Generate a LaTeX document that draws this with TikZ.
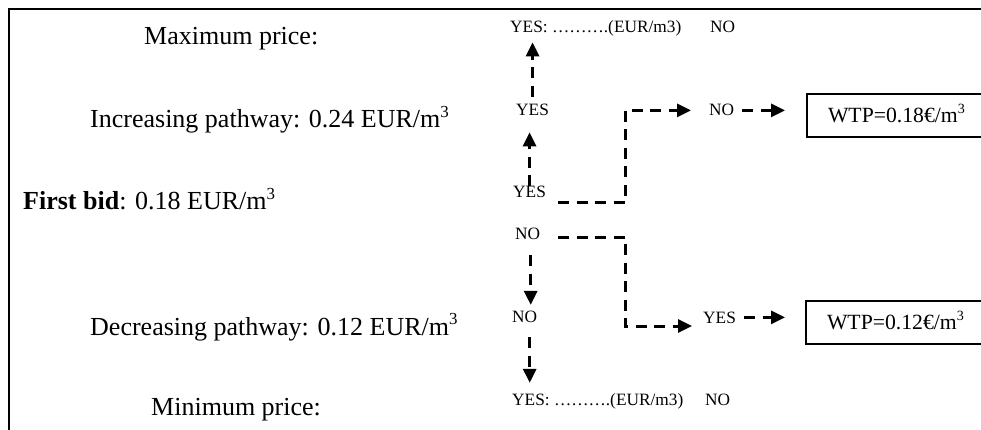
\documentclass[tikz,border=0pt]{standalone}
\usepackage{fontspec}
\setmainfont{Liberation Serif}
\usetikzlibrary{arrows.meta, calc}

\newcommand{\cubic}{m\raisebox{0.4em}{\scalebox{0.65}{3}}}

\begin{document}
\begin{tikzpicture}[
    x=1pt, y=1pt,
    >={Triangle[length=14pt, width=13pt]},
    price/.style={font=\fontsize{26}{30}\selectfont, inner sep=0pt, anchor=base west},
    answer/.style={font=\fontsize{17.3}{20}\selectfont, inner sep=0pt, anchor=base west},
    wtp box/.style={draw, line width=2pt, font=\fontsize{21.7}{25}\selectfont, anchor=west,
                    minimum height=43pt, text width=160pt, align=left, inner xsep=21pt,
                    text height=14.3pt, text depth=0pt},
    dline/.style={line width=3pt, dash pattern=on 11pt off 7.5pt},
    frame/.style={line width=2pt},
]

% Frame
\useasboundingbox (0,0) rectangle (981,-430);
\clip (0,0) rectangle (981,-430);
\draw[frame] (9,-432) -- (9,-9) -- (984,-9);

% Prices
\node[price] (maxp) at (144,-45) {Maximum price:};
\node[price] (incp) at (90,-128) {Increasing pathway: 0.24 EUR/\cubic};
\node[price] (bid) at (23,-210) {\textbf{First bid}: 0.18 EUR/\cubic};
\node[price] (decp) at (90,-335) {Decreasing pathway: 0.12 EUR/\cubic};
\node[price] (minp) at (151,-415) {Minimum price:};

% Answers
\node[answer] (maxyes) at (510,-33) {YES: ……….(EUR/m3)};
\node[answer] (maxno) at (710,-33) {NO};
\node[answer] (yes2) at (516,-116) {YES};
\node[answer] (no2) at (709,-116) {NO};
\node[answer] (yes1) at (513,-198) {YES};
\node[answer] (no1) at (515,-240) {NO};
\node[answer] (no3) at (512,-322) {NO};
\node[answer] (yes3) at (703,-323) {YES};
\node[answer] (minyes) at (512,-405) {YES: ……….(EUR/m3)};
\node[answer] (minno) at (705,-405) {NO};

% WTP boxes
\node[wtp box] (wtp1) at (806,-115.5) {WTP=0.18€/\cubic};
\node[wtp box] (wtp2) at (805,-322.5) {WTP=0.12€/\cubic};

% Increasing pathway
\draw[dline, ->, shorten <=7.5pt, shorten >=5.5pt] (yes2.north) -- (yes2.north |- maxyes.south);
\draw[dline, ->, shorten <=0pt, shorten >=16pt] (yes1.north) -- (yes1.north |- yes2.south);

% Decreasing pathway
\draw[dline, ->, shorten <=15pt, shorten >=5.5pt] ([xshift=3pt]no1.south) -- ([xshift=3pt]no1.south |- no3.north);
\draw[dline, ->, shorten <=15pt, shorten >=10pt] ([xshift=5pt]no3.south) -- ([xshift=5pt]no3.south |- minyes.north);

% Branches to WTP
\draw[dline, ->, shorten >=18pt] ([xshift=12pt, yshift=-5pt]yes1.base east) -- ++(67,0) |- (no2.west);
\draw[dline, ->, shorten >=11pt] ([xshift=18pt, yshift=3pt]no1.base east) -- ++(67,0) |- ([yshift=-3pt]yes3.base west);
\draw[dline, ->, shorten <=8pt, shorten >=21pt] (no2.east) -- (no2.east -| wtp1.west);
\draw[dline, ->, shorten <=8pt, shorten >=20pt] (yes3.east) -- (yes3.east -| wtp2.west);

\end{tikzpicture}
\end{document}
